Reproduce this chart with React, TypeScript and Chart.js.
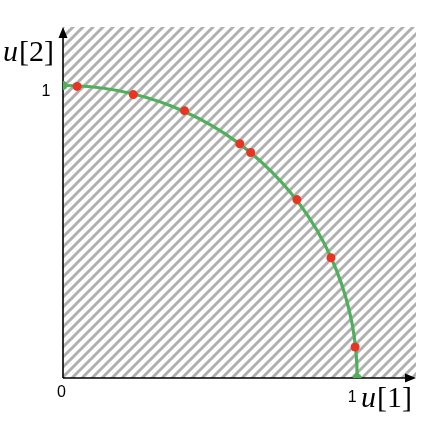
import React, { useEffect, useRef } from "react";
import { Chart, registerables } from "chart.js";

Chart.register(...registerables);

// Data
const pointX = [0.048, 0.239, 0.413, 0.601, 0.638, 0.795, 0.911, 0.993];
const pointY = [0.997, 0.969, 0.914, 0.801, 0.771, 0.61, 0.411, 0.106];
const endX = [0, 1];
const endY = [1, 0];
const arcRadius = 1;
const axisMin = 0;
const axisMax = 1.2;
const xTickValues = [0, 1];
const xTickLabels = ["0", "1"];
const yTickValues = [1];
const yTickLabels = ["1"];
const xTitle = ["u", "[1]"];
const yTitle = ["u", "[2]"];

const GREEN = "rgb(80,175,90)";
const RED = "rgb(232,52,34)";
const HATCH = "rgb(176,176,176)";

function makePattern(): CanvasPattern | string {
  const c = document.createElement("canvas");
  const s = 10;
  c.width = s;
  c.height = s;
  const g = c.getContext("2d");
  if (!g) return HATCH;
  g.fillStyle = "#fff";
  g.fillRect(0, 0, s, s);
  g.strokeStyle = HATCH;
  g.lineWidth = 3;
  g.beginPath();
  g.moveTo(-s, 2 * s);
  g.lineTo(2 * s, -s);
  g.moveTo(-s, s);
  g.lineTo(s, -s);
  g.moveTo(0, 2 * s);
  g.lineTo(2 * s, 0);
  g.stroke();
  const p = g.createPattern(c, "repeat");
  return p || HATCH;
}

const backgroundPlugin = {
  id: "bgArcAxes",
  beforeDatasetsDraw(chart: any) {
    const { ctx, chartArea, scales } = chart;
    const xs = scales.x;
    const ys = scales.y;
    ctx.save();
    // hatch
    ctx.fillStyle = makePattern();
    ctx.fillRect(chartArea.left, chartArea.top, chartArea.right - chartArea.left, chartArea.bottom - chartArea.top);

    const x0 = xs.getPixelForValue(0);
    const y0 = ys.getPixelForValue(0);
    // axes
    ctx.strokeStyle = "#000";
    ctx.fillStyle = "#000";
    ctx.lineWidth = 1.6;
    const xEnd = xs.getPixelForValue(axisMax);
    const yEnd = ys.getPixelForValue(axisMax);
    ctx.beginPath();
    ctx.moveTo(x0, y0);
    ctx.lineTo(xEnd - 6, y0);
    ctx.moveTo(x0, y0);
    ctx.lineTo(x0, yEnd + 6);
    ctx.stroke();
    // arrowheads
    ctx.beginPath();
    ctx.moveTo(xEnd, y0);
    ctx.lineTo(xEnd - 11, y0 - 4.5);
    ctx.lineTo(xEnd - 11, y0 + 4.5);
    ctx.closePath();
    ctx.fill();
    ctx.beginPath();
    ctx.moveTo(x0, yEnd);
    ctx.lineTo(x0 - 4.5, yEnd + 11);
    ctx.lineTo(x0 + 4.5, yEnd + 11);
    ctx.closePath();
    ctx.fill();

    // quarter circle arc
    const rx = xs.getPixelForValue(arcRadius) - x0;
    const ry = y0 - ys.getPixelForValue(arcRadius);
    ctx.strokeStyle = GREEN;
    ctx.lineWidth = 3.2;
    ctx.beginPath();
    ctx.ellipse(x0, y0, rx, ry, 0, -Math.PI / 2, 0);
    ctx.stroke();
    ctx.restore();
  },
  afterDraw(chart: any) {
    const { ctx, scales } = chart;
    const xs = scales.x;
    const ys = scales.y;
    const x0 = xs.getPixelForValue(0);
    const y0 = ys.getPixelForValue(0);
    ctx.save();
    ctx.fillStyle = "#000";
    ctx.font = "16px 'Liberation Sans', sans-serif";
    ctx.textAlign = "center";
    ctx.textBaseline = "middle";
    // x ticks
    xTickValues.forEach((v, i) => {
      const px = xs.getPixelForValue(v);
      if (v === 0) ctx.fillText(xTickLabels[i], px - 1.5, y0 + 15);
      else ctx.fillText(xTickLabels[i], px - 5, y0 + 20);
    });
    yTickValues.forEach((v, i) => {
      const py = ys.getPixelForValue(v);
      ctx.fillText(yTickLabels[i], x0 - 17, py + 6);
    });
    // axis titles
    const drawTitle = (parts: string[], x: number, y: number) => {
      ctx.textAlign = "left";
      ctx.textBaseline = "alphabetic";
      ctx.font = "italic 30px 'Liberation Serif', serif";
      ctx.fillText(parts[0], x, y);
      const w = ctx.measureText(parts[0]).width;
      ctx.font = "30px 'Liberation Serif', serif";
      ctx.fillText(parts[1], x + w + 1, y);
    };
    drawTitle(yTitle, 3, 61);
    drawTitle(xTitle, 361, 407);
    ctx.restore();
  },
};

export default function App() {
  const ref = useRef<HTMLCanvasElement | null>(null);
  useEffect(() => {
    if (!ref.current) return;
    const chart = new Chart(ref.current, {
      type: "scatter",
      data: {
        datasets: [
          {
            data: endX.map((x, i) => ({ x, y: endY[i] })),
            backgroundColor: GREEN,
            borderColor: GREEN,
            pointRadius: 4.5,
            borderWidth: 0,
          },
          {
            data: pointX.map((x, i) => ({ x, y: pointY[i] })),
            backgroundColor: RED,
            borderColor: RED,
            pointRadius: 4.5,
            borderWidth: 0,
          },
        ],
      },
      options: {
        animation: false,
        responsive: false,
        maintainAspectRatio: false,
        layout: { padding: { left: 63, top: 27, right: 7, bottom: 45 } },
        plugins: { legend: { display: false }, tooltip: { enabled: false } },
        scales: {
          x: { type: "linear", min: axisMin, max: axisMax, display: false },
          y: { type: "linear", min: axisMin, max: axisMax, display: false },
        },
      },
      plugins: [backgroundPlugin],
    });
    return () => chart.destroy();
  }, []);
  return (
    <div style={{ position: "fixed", left: 0, top: 0, width: 423, height: 423, background: "#fff" }}>
      <canvas ref={ref} width={423} height={423} style={{ width: 423, height: 423, display: "block" }} />
    </div>
  );
}
